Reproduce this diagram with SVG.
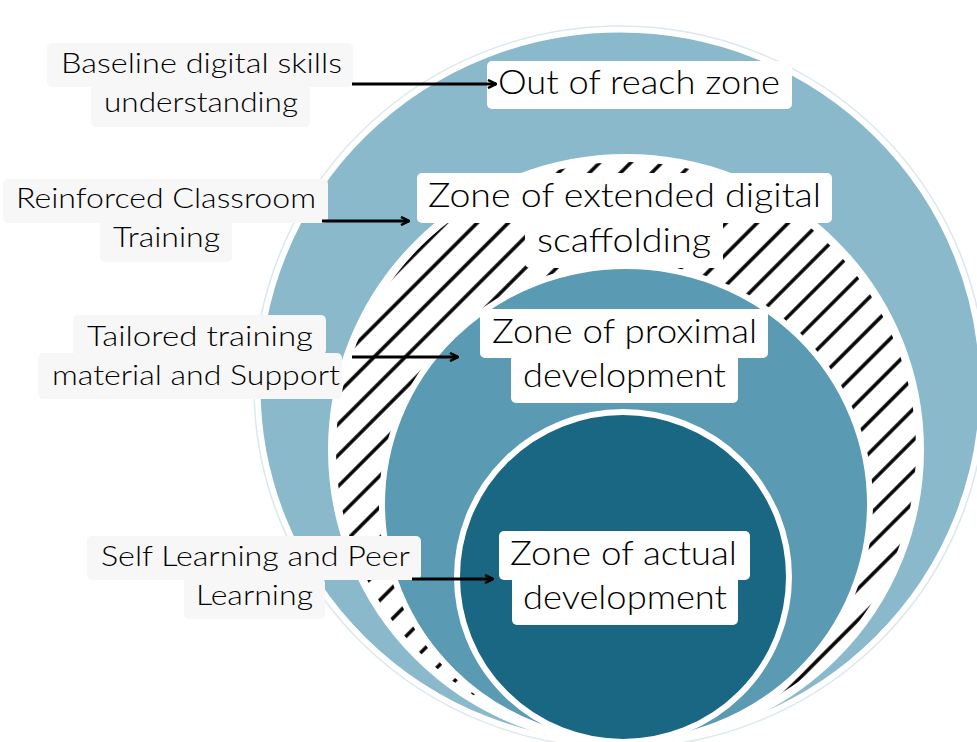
<svg xmlns="http://www.w3.org/2000/svg" width="977" height="742" viewBox="0 0 977 742">
<defs>
<style>
.zt{font-family:Lato,"Liberation Sans",sans-serif;font-size:33px;font-weight:300;fill:#000;}
.st{font-family:Lato,"Liberation Sans",sans-serif;font-size:28px;font-weight:300;fill:#000;}
.zb{fill:#ffffff;}
.sb{fill:#f7f7f7;}
.arrow{stroke:#000;stroke-width:3;fill:none;marker-end:url(#ah);}
</style>
<pattern id="hatch" patternUnits="userSpaceOnUse" width="22" height="22" patternTransform="rotate(45)">
<rect width="22" height="22" fill="#fff"/>
<line x1="11" y1="0" x2="11" y2="22" stroke="#000" stroke-width="3.5"/>
</pattern>
<marker id="ah" viewBox="0 0 10 10" refX="9" refY="5" markerWidth="10" markerHeight="10" markerUnits="userSpaceOnUse" orient="auto">
<path d="M1,1 L9,5 L1,9" fill="none" stroke="#000" stroke-width="2.5"/>
</marker>
</defs>
<rect width="977" height="742" fill="#fff"/>

<g id="outer-zone">
<ellipse cx="620" cy="387" rx="366" ry="361" fill="none" stroke="#dbe9ee" stroke-width="1.5"/>
<ellipse cx="620" cy="387" rx="362" ry="357" fill="#89b9cb" stroke="#fff" stroke-width="5"/>
</g>
<g id="scaffold-zone">
<ellipse cx="626" cy="450" rx="294" ry="292" fill="url(#hatch)" stroke="#fff" stroke-width="8"/>
</g>
<g id="proximal-zone">
<ellipse cx="626" cy="504" rx="244" ry="238" fill="#5a9bb3" stroke="#fff" stroke-width="6"/>
</g>
<g id="actual-zone">
<ellipse cx="623" cy="577" rx="166" ry="165" fill="#1a6784" stroke="#fff" stroke-width="6"/>
</g>

<g id="label-out">
<rect class="zb" x="487" y="61" width="305" height="48" rx="5"/>
<text class="zt" x="498" y="94" textLength="282" lengthAdjust="spacingAndGlyphs">Out of reach zone</text>
</g>
<g id="label-extended">
<rect class="zb" x="525" y="218" width="198" height="50" rx="5"/>
<rect class="zb" x="417" y="173" width="415" height="50" rx="5"/>
<text class="zt" x="428" y="207" textLength="393" lengthAdjust="spacingAndGlyphs">Zone of extended digital</text>
<text class="zt" x="537" y="252" textLength="174" lengthAdjust="spacingAndGlyphs">scaffolding</text>
</g>
<g id="label-proximal">
<rect class="zb" x="511" y="354" width="227" height="49" rx="5"/>
<rect class="zb" x="480" y="309" width="288" height="49" rx="5"/>
<text class="zt" x="492" y="343" textLength="265" lengthAdjust="spacingAndGlyphs">Zone of proximal</text>
<text class="zt" x="523" y="387" textLength="203" lengthAdjust="spacingAndGlyphs">development</text>
</g>
<g id="label-actual">
<rect class="zb" x="512" y="576" width="226" height="49" rx="5"/>
<rect class="zb" x="499" y="531" width="251" height="49" rx="5"/>
<text class="zt" x="510" y="565" textLength="227" lengthAdjust="spacingAndGlyphs">Zone of actual</text>
<text class="zt" x="523" y="609" textLength="204" lengthAdjust="spacingAndGlyphs">development</text>
</g>

<g id="side-baseline">
<rect class="sb" x="91" y="85" width="219" height="42" rx="5"/>
<rect class="sb" x="47" y="43" width="306" height="44" rx="5"/>
<text class="st" x="61" y="73" textLength="281" lengthAdjust="spacingAndGlyphs">Baseline digital skills</text>
<text class="st" x="104" y="112" textLength="194" lengthAdjust="spacingAndGlyphs">understanding</text>
</g>
<g id="side-reinforced">
<rect class="sb" x="100" y="221" width="132" height="41" rx="5"/>
<rect class="sb" x="3" y="179" width="325" height="44" rx="5"/>
<text class="st" x="16" y="208" textLength="300" lengthAdjust="spacingAndGlyphs">Reinforced Classroom</text>
<text class="st" x="113" y="247" textLength="107" lengthAdjust="spacingAndGlyphs">Training</text>
</g>
<g id="side-tailored">
<rect class="sb" x="73" y="315" width="253" height="40" rx="5"/>
<rect class="sb" x="38" y="353" width="304" height="46" rx="5"/>
<text class="st" x="87" y="346" textLength="226" lengthAdjust="spacingAndGlyphs">Tailored training</text>
<text class="st" x="52" y="385" textLength="288" lengthAdjust="spacingAndGlyphs">material and Support</text>
</g>
<g id="side-self">
<rect class="sb" x="184" y="578" width="141" height="41" rx="5"/>
<rect class="sb" x="87" y="536" width="334" height="44" rx="5"/>
<text class="st" x="101" y="566" textLength="309" lengthAdjust="spacingAndGlyphs">Self Learning and Peer</text>
<text class="st" x="196" y="605" textLength="117" lengthAdjust="spacingAndGlyphs">Learning</text>
</g>

<g id="connectors">
<line class="arrow" x1="352" y1="84" x2="496" y2="84"/>
<line class="arrow" x1="322" y1="221" x2="409" y2="221"/>
<line class="arrow" x1="352" y1="357" x2="458" y2="357"/>
<line class="arrow" x1="412" y1="579" x2="493" y2="579"/>
</g>
</svg>
